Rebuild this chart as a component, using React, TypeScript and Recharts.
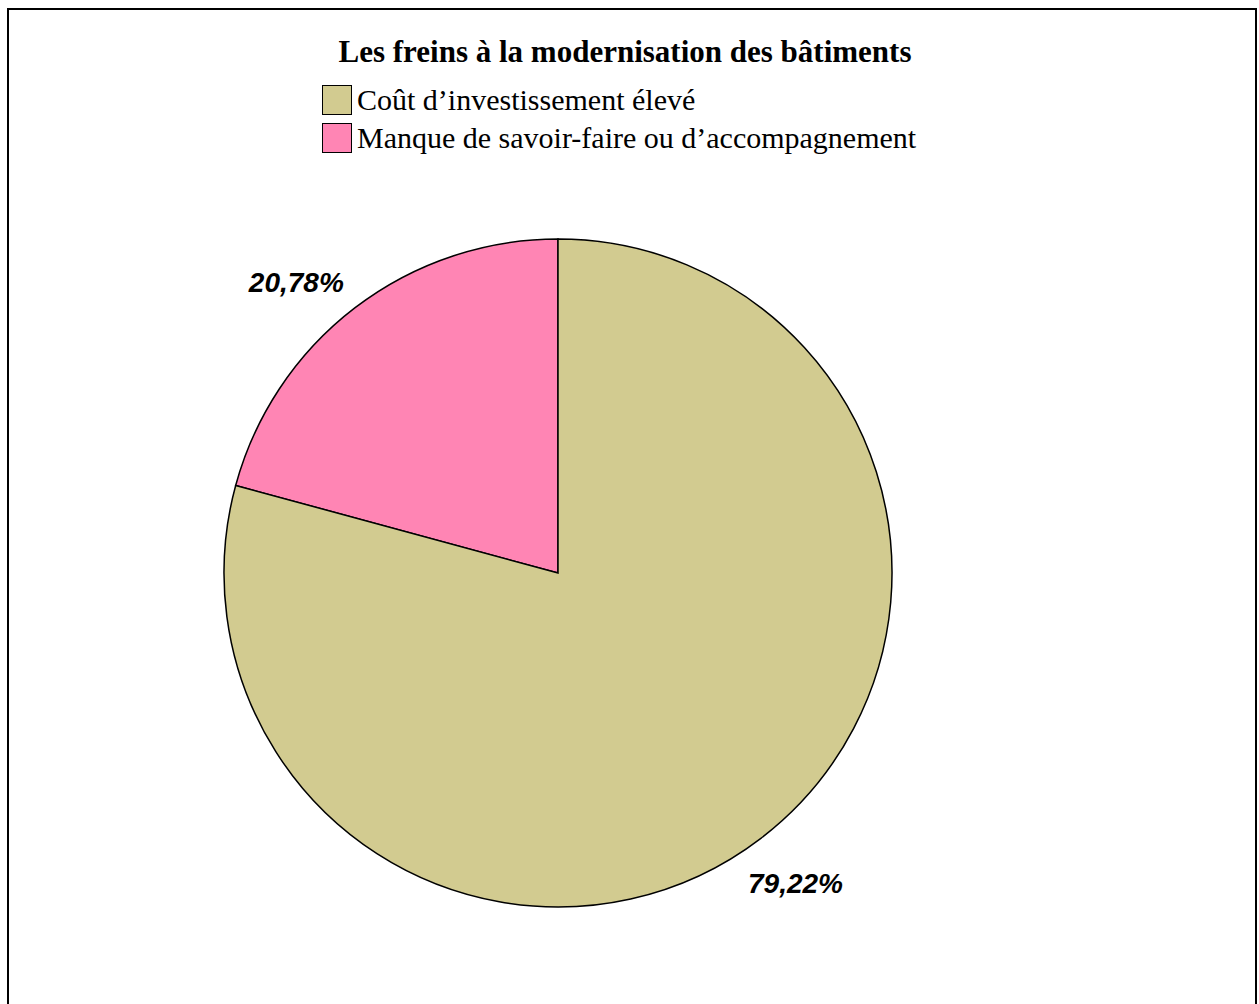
import { PieChart, Pie, Cell } from 'recharts'

// ordre de tracé : la part rose part de midi vers la gauche
const categories = ['Manque de savoir-faire ou d\u2019accompagnement', 'Co\u00fbt d\u2019investissement \u00e9lev\u00e9']
const valeurs = [20.78, 79.22]
const couleurs = ['#FF85B4', '#D2CB90']

// ordre de la légende
const legende = [
  { nom: categories[1], couleur: couleurs[1] },
  { nom: categories[0], couleur: couleurs[0] },
]

const donnees = categories.map((nom, i) => ({ nom, valeur: valeurs[i] }))

const RADIAN = Math.PI / 180

function Etiquette(props: any) {
  const { cx, cy, midAngle, outerRadius, value } = props
  const r = outerRadius + 57
  // les étiquettes de gauche sont un peu décalées vers l'extérieur
  const a = midAngle > 90 && midAngle < 270 ? midAngle + 4.6 : midAngle
  const x = cx + r * Math.cos(-a * RADIAN)
  const y = cy + r * Math.sin(-a * RADIAN)
  return (
    <text
      x={x}
      y={y}
      textAnchor="middle"
      dominantBaseline="central"
      fill="#000"
      fontFamily="'Liberation Sans', Arial, sans-serif"
      fontWeight="bold"
      fontStyle="italic"
      fontSize={28}
    >
      {value.toFixed(2).replace('.', ',')}%
    </text>
  )
}

export default function App() {
  return (
    <div style={{ position: 'absolute', left: 0, top: 0, width: 1259, height: 1004, background: '#fff', overflow: 'hidden' }}>
      <div
        style={{
          position: 'absolute',
          left: 7,
          top: 8,
          width: 1246,
          height: 1010,
          border: '2px solid #000',
        }}
      />
      <div
        style={{
          position: 'absolute',
          left: 0,
          width: 1250,
          top: 33,
          textAlign: 'center',
          fontFamily: "'Liberation Serif', 'Times New Roman', serif",
          fontWeight: 'bold',
          fontSize: 31,
          lineHeight: '38px',
        }}
      >
        Les freins à la modernisation des bâtiments
      </div>
      <div style={{ position: 'absolute', left: 322, top: 81, fontFamily: "'Liberation Serif', 'Times New Roman', serif", fontSize: 30 }}>
        {legende.map((l) => (
          <div key={l.nom} style={{ display: 'flex', alignItems: 'center', height: 38 }}>
            <div style={{ width: 28, height: 28, background: l.couleur, border: '1px solid #000', marginRight: 5 }} />
            <span>{l.nom}</span>
          </div>
        ))}
      </div>
      <div style={{ position: 'absolute', left: 0, top: 0 }}>
        <PieChart width={1259} height={1004} margin={{ top: 0, right: 0, bottom: 0, left: 0 }}>
          <Pie
            data={donnees}
            dataKey="valeur"
            nameKey="nom"
            cx={558}
            cy={573}
            outerRadius={334}
            startAngle={90}
            endAngle={450}
            stroke="#000"
            strokeWidth={1.5}
            label={Etiquette}
            labelLine={false}
            isAnimationActive={false}
          >
            {donnees.map((d, i) => (
              <Cell key={d.nom} fill={couleurs[i]} />
            ))}
          </Pie>
        </PieChart>
      </div>
    </div>
  )
}
